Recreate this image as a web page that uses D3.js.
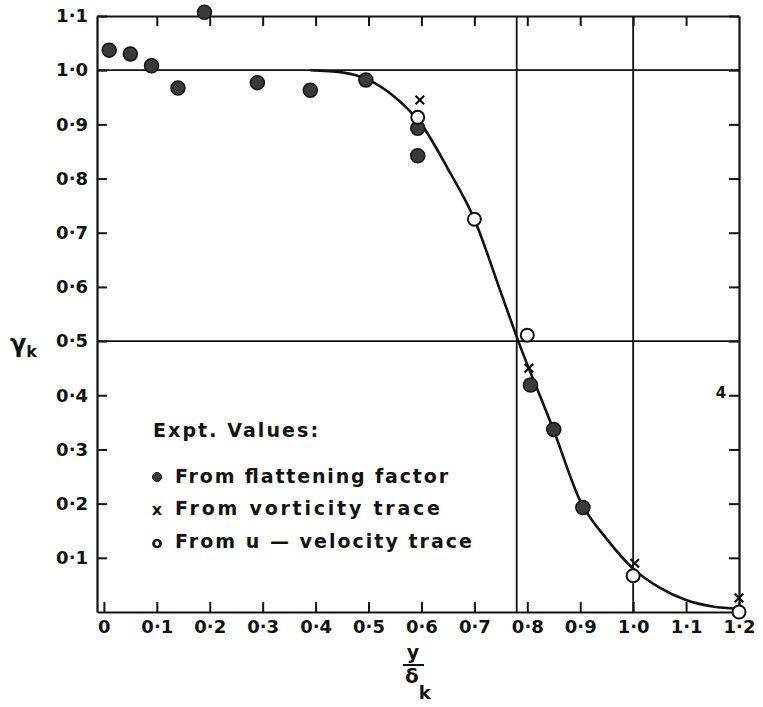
<!DOCTYPE html>
<html>
<head>
<meta charset="utf-8">
<script src="https://cdn.jsdelivr.net/npm/d3@7"></script>
<style>
  body { margin: 0; background: #fff; }
  svg { display: block; }
  .tick text { font-family: "DejaVu Sans", sans-serif; font-weight: bold; font-size: 18px; fill: #111; }
  .lbl { font-family: "DejaVu Sans", sans-serif; font-weight: bold; fill: #111; }
</style>
</head>
<body>
<svg id="chart"></svg>
<script>
// tick values
const xTicks = [0, 0.1, 0.2, 0.3, 0.4, 0.5, 0.6, 0.7, 0.8, 0.9, 1.0, 1.1, 1.2];
const yTicks = [0.1, 0.2, 0.3, 0.4, 0.5, 0.6, 0.7, 0.8, 0.9, 1.0, 1.1];

const flatX = [0.01, 0.05, 0.09, 0.14, 0.19, 0.29, 0.39, 0.495, 0.593, 0.593, 0.806, 0.85, 0.905];
const flatY = [1.037, 1.03, 1.008, 0.967, 1.107, 0.977, 0.963, 0.982, 0.893, 0.842, 0.419, 0.337, 0.193];
const vortX = [0.597, 0.803, 1.003, 1.2];
const vortY = [0.945, 0.45, 0.09, 0.026];
const velX = [0.593, 0.70, 0.80, 1.0, 1.2];
const velY = [0.913, 0.725, 0.511, 0.067, 0.0];

// faired curve
const curveX = [0.39, 0.45, 0.5, 0.55, 0.6, 0.65, 0.7, 0.75, 0.783, 0.85, 0.9, 0.95, 1.0, 1.05, 1.1, 1.15, 1.2];
const curveY = [1.0, 0.996, 0.982, 0.95, 0.9, 0.818, 0.725, 0.59, 0.5, 0.335, 0.205, 0.135, 0.08, 0.045, 0.022, 0.01, 0.006];

// guide lines
const hLines = [1.0, 0.5];
const vLines = [0.78, 1.0];

const legendTitle = "Expt. Values:";
const legendItems = ["From flattening factor", "From vorticity  trace", "From u \u2014 velocity trace"];

let width = 763, height = 707;
let margin = {left: 97, top: 16, right: 24, bottom: 95};

let svg = d3.select('#chart').attr('width', width).attr('height', height);

let xScale = d3.scaleLinear().domain([-0.013, 1.2]).range([margin.left, width - margin.right]);
let yScale = d3.scaleLinear().domain([0, 1.1]).range([height - margin.bottom, margin.top]);

let fmt = d => d === 0 ? "0" : d3.format(".1f")(d).replace(".", "\u00b7");

let x0 = xScale.range()[0], x1 = xScale.range()[1];
let y0 = yScale.range()[0], y1 = yScale.range()[1];

// axes, ticks pointing inwards
svg.append('g')
    .attr('transform', 'translate(0,' + y0 + ')')
    .call(d3.axisBottom(xScale).tickValues(xTicks).tickFormat(fmt).tickSizeInner(-10).tickSizeOuter(0).tickPadding(8));
svg.append('g')
    .attr('transform', 'translate(0,' + y1 + ')')
    .call(d3.axisTop(xScale).tickValues(xTicks.slice(1, -1)).tickFormat('').tickSizeInner(-10).tickSizeOuter(0));
svg.append('g')
    .attr('transform', 'translate(' + x0 + ',0)')
    .call(d3.axisLeft(yScale).tickValues(yTicks).tickFormat(fmt).tickSizeInner(-10).tickSizeOuter(0).tickPadding(9));
svg.append('g')
    .attr('transform', 'translate(' + x1 + ',0)')
    .call(d3.axisRight(yScale).tickValues(yTicks).tickFormat('').tickSizeInner(-10).tickSizeOuter(0));

svg.selectAll('.domain').attr('stroke', '#111').attr('stroke-width', 2.2);
svg.selectAll('.tick line').attr('stroke', '#111').attr('stroke-width', 2);
svg.selectAll('.tick text').attr('fill', '#111');

// guide lines
svg.selectAll('.hline').data(hLines).enter().append('line')
    .attr('x1', x0).attr('x2', x1)
    .attr('y1', d => yScale(d)).attr('y2', d => yScale(d))
    .attr('stroke', '#111').attr('stroke-width', 1.8);
svg.selectAll('.vline').data(vLines).enter().append('line')
    .attr('y1', y0).attr('y2', y1)
    .attr('x1', d => xScale(d)).attr('x2', d => xScale(d))
    .attr('stroke', '#111').attr('stroke-width', 1.8);

// curve
let curveData = curveX.map((x, i) => [x, curveY[i]]);
svg.append('path')
    .datum(curveData)
    .attr('d', d3.line().x(d => xScale(d[0])).y(d => yScale(d[1])).curve(d3.curveMonotoneX))
    .attr('fill', 'none').attr('stroke', '#111').attr('stroke-width', 2.6);

// vorticity crosses
svg.selectAll('.vort').data(vortX.map((x, i) => [x, vortY[i]])).enter().append('path')
    .attr('transform', d => 'translate(' + xScale(d[0]) + ',' + yScale(d[1]) + ')')
    .attr('d', d3.symbol(d3.symbolX, 50))
    .attr('fill', 'none').attr('stroke', '#111').attr('stroke-width', 2.2);

// flattening factor: shaded dots
svg.selectAll('.flat').data(flatX.map((x, i) => [x, flatY[i]])).enter().append('circle')
    .attr('cx', d => xScale(d[0])).attr('cy', d => yScale(d[1]))
    .attr('r', 7)
    .attr('fill', '#3a3a3a').attr('stroke', '#111').attr('stroke-width', 1.5);

// u-velocity: open circles
svg.selectAll('.vel').data(velX.map((x, i) => [x, velY[i]])).enter().append('circle')
    .attr('cx', d => xScale(d[0])).attr('cy', d => yScale(d[1]))
    .attr('r', 6.5)
    .attr('fill', '#fff').attr('stroke', '#111').attr('stroke-width', 2);

// legend
let lg = svg.append('g');
lg.append('text').attr('class', 'lbl').attr('x', 153).attr('y', 437)
    .attr('font-size', 19).attr('textLength', 165).attr('lengthAdjust', 'spacing').text(legendTitle);
let rows = [483, 515, 548];
let ends = [448, 440, 472];
legendItems.forEach((t, i) => {
    lg.append('text').attr('class', 'lbl').attr('x', 175).attr('y', rows[i])
        .attr('font-size', 19).attr('textLength', ends[i] - 175).attr('lengthAdjust', 'spacing').text(t);
});
lg.append('circle').attr('cx', 157).attr('cy', rows[0] - 6).attr('r', 4.5)
    .attr('fill', '#3a3a3a').attr('stroke', '#111').attr('stroke-width', 1);
lg.append('text').attr('class', 'lbl').attr('x', 157).attr('y', rows[1]).attr('text-anchor', 'middle')
    .attr('font-size', 16).text('x');
lg.append('text').attr('class', 'lbl').attr('x', 157).attr('y', rows[2]).attr('text-anchor', 'middle')
    .attr('font-size', 16).text('o');

// stray mark on the original
svg.append('text').attr('class', 'lbl').attr('x', 721).attr('y', 398).attr('text-anchor', 'middle')
    .attr('font-size', 15).text('4');

// axis titles
let yl = svg.append('text').attr('class', 'lbl').attr('x', 10).attr('y', 352).attr('font-size', 24);
yl.append('tspan').text('\u03b3');
yl.append('tspan').attr('font-size', 16).attr('dy', 5).text('k');

let xl = svg.append('g');
xl.append('text').attr('class', 'lbl').attr('x', 413).attr('y', 659).attr('text-anchor', 'middle')
    .attr('font-size', 19).text('y');
xl.append('line').attr('x1', 403).attr('x2', 424).attr('y1', 665).attr('y2', 665)
    .attr('stroke', '#111').attr('stroke-width', 2);
let dk = xl.append('text').attr('class', 'lbl').attr('x', 405).attr('y', 683).attr('font-size', 20);
dk.append('tspan').text('\u03b4');
dk.append('tspan').attr('font-size', 18).attr('dy', 16).text('k');
</script>
</body>
</html>
